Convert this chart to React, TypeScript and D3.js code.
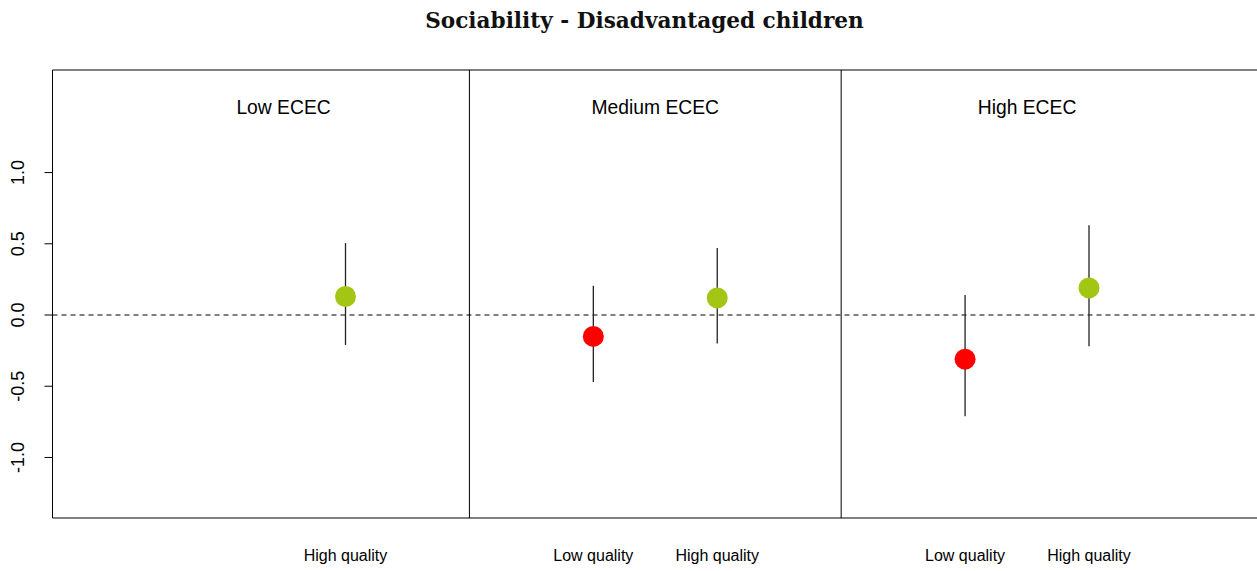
import React from "react";
import * as d3 from "d3";

const title = "Sociability - Disadvantaged children";
const panelLabels = ["Low ECEC", "Medium ECEC", "High ECEC"];
const pointLabels = ["High quality", "Low quality", "High quality", "Low quality", "High quality"];
const pointPos = [2, 4, 5, 7, 8];
const estimates = [0.13, -0.15, 0.12, -0.31, 0.19];
const lower = [-0.21, -0.47, -0.2, -0.71, -0.22];
const upper = [0.505, 0.205, 0.47, 0.14, 0.63];
const quality = ["high", "low", "high", "low", "high"];
const yTicks = [-1.0, -0.5, 0.0, 0.5, 1.0];
const panelCenters = [1.5, 4.5, 7.5];
const dividers = [3, 6];

const W = 1257;
const H = 571;

export default function App() {
  const x = d3.scaleLinear().domain([2, 8]).range([345.5, 1089]);
  const y = d3.scaleLinear().domain([-1.425, 1.72]).range([518, 70]);
  const left = 52.5;
  const right = W + 10;
  const top = y(1.72);
  const bottom = y(-1.425);
  const color = (q: string) => (q === "low" ? "#FF0000" : "#A3C614");
  const sans = "'Liberation Sans', Arial, sans-serif";

  return (
    <svg width={W} height={H} style={{ position: "absolute", left: 0, top: 0, background: "#fff" }}>
      <text x={644.5} y={28} textAnchor="middle" fontFamily="'DejaVu Serif', serif" fontWeight={600} fontSize={21.6} fill="#111">
        {title}
      </text>
      {/* box */}
      <line x1={left} x2={right} y1={top} y2={top} stroke="#000" strokeWidth={1} />
      <line x1={left} x2={right} y1={bottom} y2={bottom} stroke="#000" strokeWidth={1} />
      <line x1={left} x2={left} y1={top} y2={bottom} stroke="#000" strokeWidth={1} />
      {dividers.map((d, i) => (
        <line key={i} x1={x(d)} x2={x(d)} y1={top} y2={bottom} stroke="#000" strokeWidth={1} />
      ))}
      {/* y axis */}
      {yTicks.map((t, i) => (
        <g key={i}>
          <line x1={left - 8} x2={left} y1={y(t)} y2={y(t)} stroke="#000" />
          <text
            transform={`translate(${24},${y(t)}) rotate(-90)`}
            textAnchor="middle"
            fontFamily={sans}
            fontSize={18}
            fill="#000"
          >
            {t.toFixed(1)}
          </text>
        </g>
      ))}
      {/* zero line */}
      <line x1={left} x2={right} y1={y(0)} y2={y(0)} stroke="#000" strokeDasharray="5,4" strokeWidth={1} />
      {/* panel labels */}
      {panelLabels.map((p, i) => (
        <text key={i} x={x(panelCenters[i])} y={114} textAnchor="middle" fontFamily={sans} fontSize={19.3} fill="#000">
          {p}
        </text>
      ))}
      {/* points */}
      {pointPos.map((p, i) => (
        <g key={i}>
          <line x1={x(p)} x2={x(p)} y1={y(upper[i])} y2={y(lower[i])} stroke="#222" strokeWidth={1.3} />
          <circle cx={x(p)} cy={y(estimates[i])} r={10.5} fill={color(quality[i])} />
          <text x={x(p)} y={561} textAnchor="middle" fontFamily={sans} fontSize={16} fill="#000">
            {pointLabels[i]}
          </text>
        </g>
      ))}
    </svg>
  );
}
